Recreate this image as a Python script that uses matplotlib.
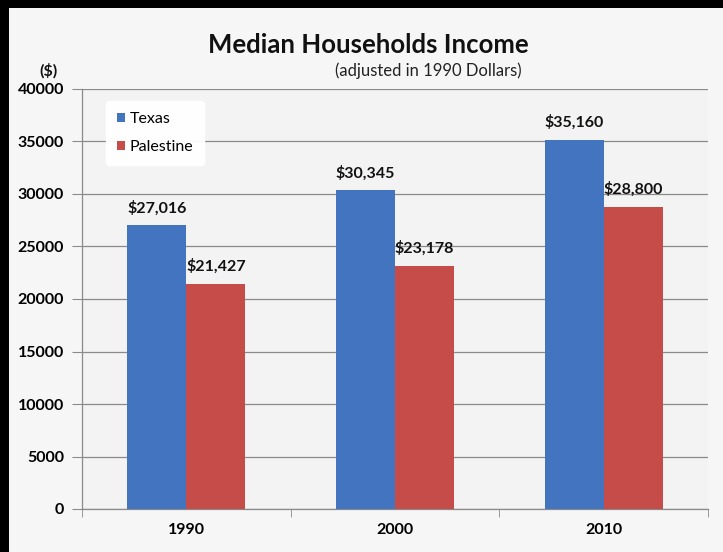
import matplotlib
matplotlib.use("Agg")
import matplotlib.pyplot as plt
from matplotlib.patches import Rectangle
import numpy as np

years = ["1990", "2000", "2010"]
texas = [27016, 30345, 35160]
palestine = [21427, 23178, 28800]
series_names = ["Texas", "Palestine"]
yticks = [0, 5000, 10000, 15000, 20000, 25000, 30000, 35000, 40000]

FONT = ["Lato", "DejaVu Sans"]
plt.rcParams["font.family"] = FONT

W, H = 723, 552
fig = plt.figure(figsize=(W / 100, H / 100), dpi=100)
fig.patch.set_facecolor("#f6f6f6")

ax = fig.add_axes([82 / W, 1 - 509 / H, (708 - 82) / W, (509 - 89) / H])
ax.set_facecolor("#f3f3f3")

x = np.arange(len(years))
bw = 0.283
b1 = ax.bar(x - bw / 2, texas, bw, color="#4274c0", label=series_names[0], zorder=3)
b2 = ax.bar(x + bw / 2, palestine, bw, color="#c64c49", label=series_names[1], zorder=3)

for bars, vals in ((b1, texas), (b2, palestine)):
    for rect, v in zip(bars, vals):
        ax.annotate(f"${v:,}", (rect.get_x() + rect.get_width() / 2, v),
                    xytext=(0, 7), textcoords="offset points", ha="center", va="bottom",
                    fontsize=11.5, fontweight="bold", color="#111111", zorder=5)

ax.set_ylim(0, 40000)
ax.set_xlim(-0.5, len(years) - 0.5)
ax.set_yticks(yticks)
ax.set_yticklabels([str(t) for t in yticks], fontsize=11.5, fontweight="bold")
ax.yaxis.grid(True, color="#8a8a8a", linewidth=0.9, zorder=0)
ax.set_axisbelow(True)

ax.set_xticks(x)
ax.set_xticklabels(years, fontsize=11.5, fontweight="bold")
ax.set_xticks(np.arange(-0.5, len(years), 1.0), minor=True)
ax.tick_params(axis="x", which="major", length=0, pad=10)
ax.tick_params(axis="x", which="minor", length=6, color="#8a8a8a", direction="out")
ax.tick_params(axis="y", length=7, color="#8a8a8a", direction="out", pad=6)

for s in ("top", "right"):
    ax.spines[s].set_visible(False)
for s in ("left", "bottom"):
    ax.spines[s].set_color("#8a8a8a")
    ax.spines[s].set_linewidth(0.9)

leg = ax.legend(loc="upper left", bbox_to_anchor=(0.025, 0.99), frameon=True,
                fontsize=11.5, handlelength=0.5, handleheight=0.5, handletextpad=0.3,
                labelspacing=0.85, borderpad=0.7, fancybox=True)
leg.get_frame().set_facecolor("white")
leg.get_frame().set_edgecolor("white")
leg.get_frame().set_alpha(0.95)

fig.text(368 / W, 1 - 45 / H, "Median Households Income", ha="center", va="center",
         fontsize=18.5, fontweight="bold", color="#111111")
fig.text(428 / W, 1 - 71 / H, "(adjusted in 1990 Dollars)", ha="center", va="center",
         fontsize=12, color="#222222")
fig.text(49 / W, 1 - 71 / H, "($)", ha="center", va="center",
         fontsize=11.5, fontweight="bold", color="#111111")

# black frame on left and top
fig.add_artist(Rectangle((0, 0), 9 / W, 1, transform=fig.transFigure,
                         facecolor="black", edgecolor="none", zorder=10))
fig.add_artist(Rectangle((0, 1 - 8 / H), 1, 8 / H, transform=fig.transFigure,
                         facecolor="black", edgecolor="none", zorder=10))

fig.savefig("out.png", dpi=100, facecolor=fig.get_facecolor())
